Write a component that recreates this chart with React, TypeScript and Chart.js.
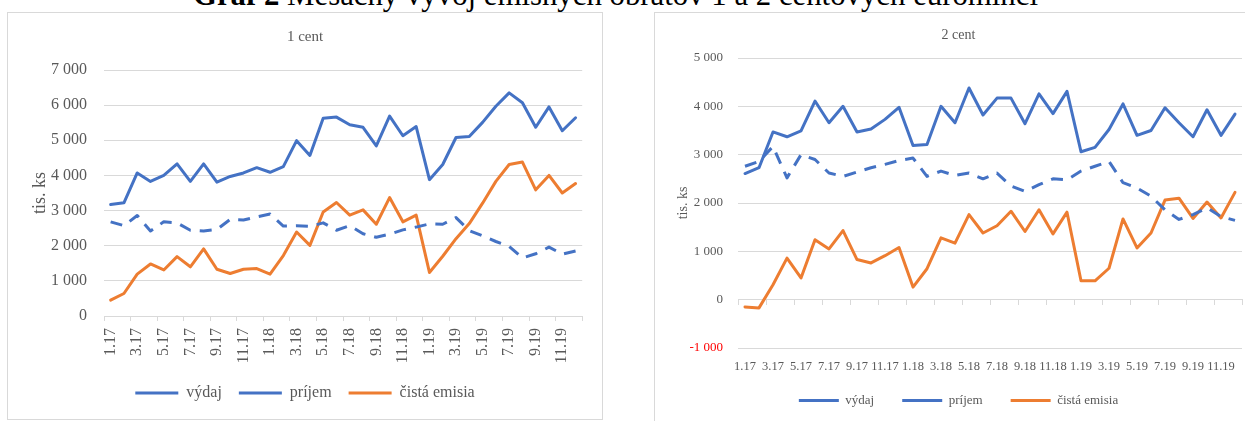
import React, { useEffect, useRef } from 'react';
import { Chart, registerables } from 'chart.js';

Chart.register(...registerables);

const months = [
  '1.17', '2.17', '3.17', '4.17', '5.17', '6.17', '7.17', '8.17', '9.17', '10.17', '11.17', '12.17',
  '1.18', '2.18', '3.18', '4.18', '5.18', '6.18', '7.18', '8.18', '9.18', '10.18', '11.18', '12.18',
  '1.19', '2.19', '3.19', '4.19', '5.19', '6.19', '7.19', '8.19', '9.19', '10.19', '11.19', '12.19',
];

const seriesNames = ['výdaj', 'príjem', 'čistá emisia'];

// 1 cent
const vydaj1 = [3170, 3220, 4070, 3830, 4000, 4330, 3830, 4330, 3810, 3970, 4070, 4220, 4090, 4250, 4990, 4570, 5630, 5660, 5440, 5370, 4840, 5690, 5130, 5390, 3880, 4310, 5080, 5110, 5510, 5970, 6350, 6070, 5370, 5950, 5270, 5640];
const prijem1 = [2680, 2570, 2860, 2420, 2680, 2650, 2440, 2420, 2460, 2750, 2730, 2820, 2900, 2560, 2570, 2550, 2650, 2440, 2570, 2340, 2240, 2330, 2450, 2530, 2620, 2610, 2800, 2430, 2280, 2120, 1980, 1650, 1770, 1960, 1760, 1850];
const emisia1 = [450, 640, 1190, 1480, 1310, 1690, 1400, 1910, 1330, 1210, 1330, 1350, 1190, 1720, 2390, 2010, 2960, 3230, 2870, 3020, 2610, 3370, 2680, 2870, 1240, 1700, 2200, 2630, 3210, 3830, 4310, 4380, 3590, 4000, 3500, 3770];

// 2 cent
const vydaj2 = [2610, 2730, 3470, 3370, 3490, 4110, 3660, 4000, 3470, 3530, 3730, 3980, 3190, 3210, 4000, 3660, 4380, 3820, 4170, 4170, 3640, 4260, 3850, 4310, 3060, 3150, 3520, 4050, 3400, 3500, 3970, 3660, 3370, 3930, 3400, 3840];
const prijem2 = [2760, 2860, 3170, 2520, 3000, 2900, 2620, 2550, 2640, 2730, 2800, 2880, 2930, 2550, 2660, 2570, 2620, 2500, 2620, 2350, 2240, 2380, 2500, 2480, 2660, 2760, 2860, 2420, 2310, 2140, 1860, 1660, 1760, 1900, 1720, 1640];
const emisia2 = [-150, -170, 310, 860, 450, 1240, 1050, 1430, 830, 760, 910, 1080, 260, 640, 1280, 1170, 1760, 1380, 1530, 1830, 1410, 1860, 1360, 1810, 390, 390, 650, 1670, 1070, 1380, 2060, 2100, 1680, 2020, 1690, 2220];

const GRID = '#d9d9d9';
const TEXT = '#595959';
const BLUE = '#4472C4';
const ORANGE = '#ED7D31';
const FONT = "'Liberation Serif', 'Times New Roman', serif";

function fmt(v: number): string {
  const s = Math.abs(v).toString().replace(/\B(?=(\d{3})+(?!\d))/g, ' ');
  return (v < 0 ? '-' : '') + s;
}

function everyOtherLabel(_v: any, i: number) {
  return i % 2 === 0 ? months[i] : '';
}

function tickMarkColor(ctx: any) {
  return ctx.index === undefined || ctx.index % 2 === 0 ? GRID : 'rgba(0,0,0,0)';
}

function makeDatasets(v: number[], p: number[], e: number[], width: number, dash: number[]) {
  const base = {
    pointRadius: 0,
    pointHoverRadius: 0,
    tension: 0,
    borderWidth: width,
    borderJoinStyle: 'round' as const,
    fill: false,
  };
  return [
    { ...base, label: seriesNames[0], data: v, borderColor: BLUE, backgroundColor: BLUE, borderCapStyle: 'round' as const },
    { ...base, label: seriesNames[1], data: p, borderColor: BLUE, backgroundColor: BLUE, borderDash: dash, borderCapStyle: 'butt' as const },
    { ...base, label: seriesNames[2], data: e, borderColor: ORANGE, backgroundColor: ORANGE, borderCapStyle: 'round' as const },
  ];
}

function LeftChart() {
  const ref = useRef<HTMLCanvasElement>(null);
  useEffect(() => {
    const chart = new Chart(ref.current!, {
      type: 'line',
      data: { labels: months, datasets: makeDatasets(vydaj1, prijem1, emisia1, 3, [12, 9]) as any },
      options: {
        animation: false,
        responsive: false,
        devicePixelRatio: 1,
        events: [],
        layout: { padding: { left: 17, right: 17, top: 0, bottom: 8 } },
        plugins: {
          tooltip: { enabled: false },
          title: {
            display: true,
            text: '1 cent',
            color: TEXT,
            font: { family: FONT, size: 15, weight: 'normal' },
            padding: { top: 15, bottom: 24 },
          },
          legend: {
            position: 'bottom',
            labels: {
              usePointStyle: true,
              pointStyle: 'line',
              pointStyleWidth: 43,
              padding: 17,
              color: TEXT,
              font: { family: FONT, size: 16 },
            },
          },
        },
        scales: {
          x: {
            offset: true,
            afterFit: (s: any) => { s.height = 52; },
            grid: { display: true, offset: true, drawOnChartArea: false, drawTicks: true, tickLength: 5, color: tickMarkColor },
            border: { display: true, color: GRID },
            ticks: {
              autoSkip: false,
              maxRotation: 90,
              minRotation: 90,
              padding: 7,
              color: TEXT,
              font: { family: FONT, size: 16 },
              callback: everyOtherLabel,
            },
          },
          y: {
            min: 0,
            max: 7000,
            afterFit: (s: any) => { s.width = 79; },
            grid: { color: GRID, drawTicks: false },
            border: { display: false },
            ticks: { stepSize: 1000, padding: 17, color: TEXT, font: { family: FONT, size: 16 }, callback: (v: any) => fmt(Number(v)) },
            title: { display: true, text: 'tis. ks', color: TEXT, font: { family: FONT, size: 18 }, padding: { top: 4, bottom: 0 } },
          },
        },
      } as any,
    });
    return () => chart.destroy();
  }, []);
  return <canvas ref={ref} width={594} height={406} style={{ display: 'block', width: 594, height: 406 }} />;
}

function RightChart() {
  const ref = useRef<HTMLCanvasElement>(null);
  useEffect(() => {
    const chart = new Chart(ref.current!, {
      type: 'line',
      data: { labels: months, datasets: makeDatasets(vydaj2, prijem2, emisia2, 3, [12, 9]) as any },
      options: {
        animation: false,
        responsive: false,
        devicePixelRatio: 1,
        events: [],
        layout: { padding: { left: 20, right: 20, top: 0, bottom: 4 } },
        plugins: {
          tooltip: { enabled: false },
          title: {
            display: true,
            text: '2 cent',
            color: TEXT,
            font: { family: FONT, size: 14, weight: 'normal' },
            padding: { top: 14, bottom: 14.2 },
          },
          legend: {
            position: 'bottom',
            labels: {
              usePointStyle: true,
              pointStyle: 'line',
              pointStyleWidth: 40,
              padding: 28,
              color: TEXT,
              font: { family: FONT, size: 13 },
            },
          },
        },
        scales: {
          x: {
            offset: true,
            afterFit: (s: any) => { s.height = 18; },
            grid: { display: false, drawTicks: false },
            border: { display: false },
            ticks: {
              autoSkip: false,
              maxRotation: 0,
              minRotation: 0,
              mirror: true,
              padding: -26.5,
              color: TEXT,
              font: { family: FONT, size: 12.5 },
              callback: everyOtherLabel,
            },
          },
          x2: {
            axis: 'x',
            type: 'category',
            position: { y: 0 },
            offset: true,
            grid: { display: true, offset: true, drawOnChartArea: false, drawTicks: true, tickLength: 5, color: tickMarkColor },
            border: { display: true, color: GRID },
            ticks: { display: false },
          },
          y: {
            min: -1000,
            max: 5000,
            afterFit: (s: any) => { s.width = 63; },
            grid: { color: GRID, drawTicks: false },
            border: { display: false },
            ticks: {
              stepSize: 1000,
              padding: 15,
              color: (c: any) => (c.tick && c.tick.value < 0 ? '#FF0000' : TEXT),
              font: { family: FONT, size: 13 },
              callback: (v: any) => fmt(Number(v)),
            },
            title: { display: true, text: 'tis. ks', color: TEXT, font: { family: FONT, size: 14 }, padding: { top: 0, bottom: 0 } },
          },
        },
      } as any,
    });
    return () => chart.destroy();
  }, []);
  return <canvas ref={ref} width={607} height={408} style={{ display: 'block', width: 607, height: 408 }} />;
}

export default function App() {
  return (
    <div style={{ position: 'absolute', left: 0, top: 0, width: 1245, height: 421, overflow: 'hidden', background: '#fff' }}>
      <div
        style={{
          position: 'absolute',
          left: 193,
          top: -20,
          whiteSpace: 'nowrap',
          fontFamily: FONT,
          fontSize: 30.8,
          lineHeight: 1,
          color: '#000',
        }}
      >
        <b>Graf 2</b> Mesačný vývoj emisných obratov 1 a 2 centových euromincí
      </div>
      <div style={{ position: 'absolute', left: 7, top: 12, width: 596, height: 408, border: '1px solid #d9d9d9', boxSizing: 'border-box' }}>
        <LeftChart />
      </div>
      <div style={{ position: 'absolute', left: 654, top: 12, width: 620, height: 420, border: '1px solid #d9d9d9', boxSizing: 'border-box' }}>
        <RightChart />
      </div>
    </div>
  );
}
